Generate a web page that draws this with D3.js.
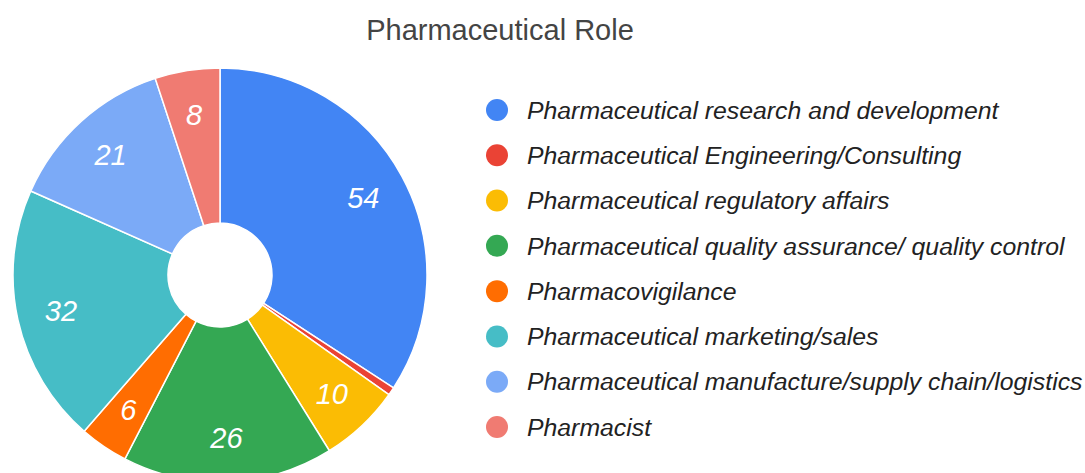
<!DOCTYPE html>
<html lang="en">
<head>
<title>Pharmaceutical Role</title>
<meta charset="utf-8">
<script src="https://cdn.jsdelivr.net/npm/d3@7"></script>
<style type="text/css">
  body {
    margin: 0;
    background: #fff;
    font-family: Arial, "Liberation Sans", sans-serif;
  }
  .title {
    fill: #444;
    font-size: 29px;
  }
  .slice-label {
    fill: #fff;
    font-size: 29px;
    font-style: italic;
  }
  .legend text {
    fill: #222;
    font-size: 24.8px;
    font-style: italic;
  }
</style>
</head>
<body>
<div id="vis"></div>
<script type="text/javascript">

/* Data */
/* ==== */

var roles = [
  'Pharmaceutical research and development',
  'Pharmaceutical Engineering/Consulting',
  'Pharmaceutical regulatory affairs',
  'Pharmaceutical quality assurance/ quality control',
  'Pharmacovigilance',
  'Pharmaceutical marketing/sales',
  'Pharmaceutical manufacture/supply chain/logistics',
  'Pharmacist'
];

var counts = [54, 1, 10, 26, 6, 32, 21, 8];

var colours = ['#4285f4', '#ea4335', '#fbbc04', '#34a853', '#ff6d01', '#46bdc6', '#7baaf7', '#f07b72'];


/* Set up */
/* ====== */

var width = 1085, height = 473;
var cx = 220, cy = 275;
var outerR = 207, innerR = 52, labelR = 163;

var svg = d3.select('#vis')
  .append('svg')
    .attr('width', width)
    .attr('height', height);

svg.append('text')
    .attr('class', 'title')
    .attr('x', 500)
    .attr('y', 40)
    .attr('text-anchor', 'middle')
    .text('Pharmaceutical Role');

var data = roles.map(function(r, i) {
  return { role: r, count: counts[i], colour: colours[i] };
});

var pie = d3.pie()
  .sort(null)
  .value(function(d) { return d.count; });

var arc = d3.arc()
  .innerRadius(innerR)
  .outerRadius(outerR);

var labelArc = d3.arc()
  .innerRadius(labelR)
  .outerRadius(labelR);

var colour = d3.scaleOrdinal()
  .domain(roles)
  .range(colours);


/* Donut */
/* ===== */

var g = svg.append('g')
    .attr('transform', 'translate(' + cx + ',' + cy + ')');

var arcs = pie(data);

g.selectAll('path')
  .data(arcs).enter()
  .append('path')
    .attr('d', arc)
    .attr('fill', function(d) { return colour(d.data.role); })
    .attr('stroke', '#fff')
    .attr('stroke-width', 1.5);

// Only label slices with room for text
g.selectAll('.slice-label')
  .data(arcs.filter(function(d) { return d.endAngle - d.startAngle > 0.15; })).enter()
  .append('text')
    .attr('class', 'slice-label')
    .attr('transform', function(d) { return 'translate(' + labelArc.centroid(d) + ')'; })
    .attr('text-anchor', 'middle')
    .attr('dy', '0.36em')
    .text(function(d) { return d.data.count; });


/* Legend */
/* ====== */

var legendY = d3.scalePoint()
  .domain(roles)
  .range([110, 427]);

var legend = svg.append('g')
    .attr('class', 'legend')
    .selectAll('g')
    .data(roles).enter()
    .append('g')
      .attr('transform', function(d) { return 'translate(497,' + legendY(d) + ')'; });

legend.append('circle')
    .attr('r', 11)
    .attr('fill', function(d) { return colour(d); });

legend.append('text')
    .attr('x', 30)
    .attr('dy', '0.35em')
    .text(function(d) { return d; });

</script>
</body>
</html>
